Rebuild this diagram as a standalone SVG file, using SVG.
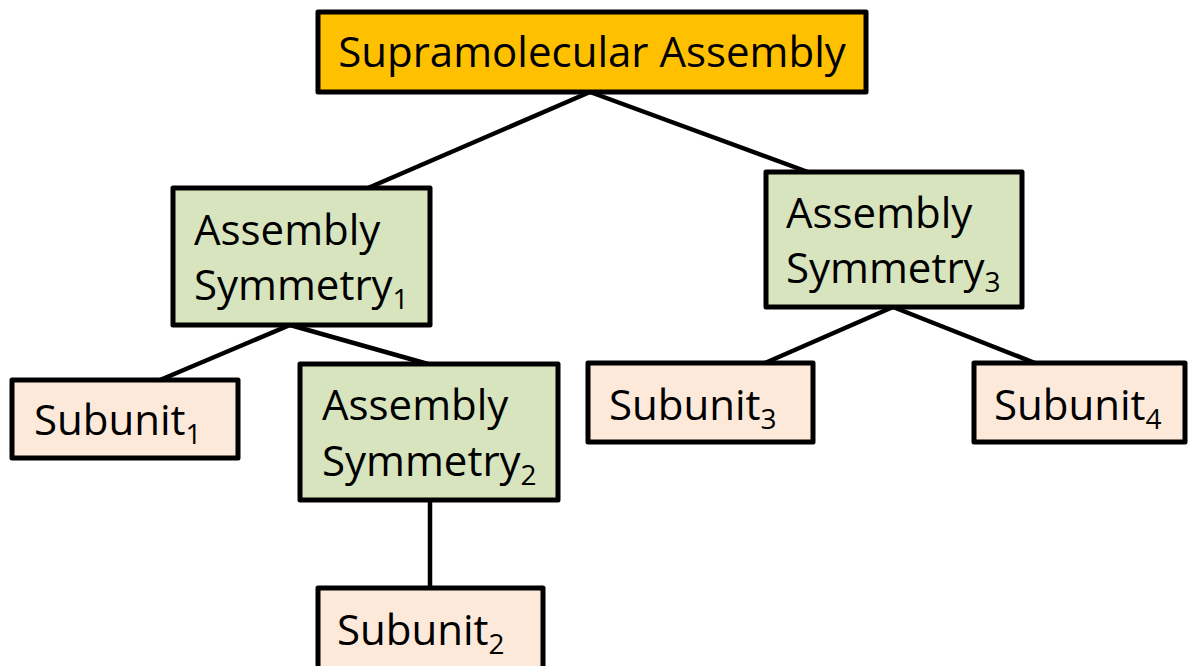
<svg xmlns="http://www.w3.org/2000/svg" width="1188" height="666" viewBox="0 0 1188 666">
<style>
.box{stroke:#000;stroke-width:5;stroke-linejoin:round}
.root{fill:#FFC000}
.sym{fill:#D7E4BD}
.sub{fill:#FDE9D9}
.t{font-family:"Open Sans","DejaVu Sans",sans-serif;font-size:42px;fill:#000}
.s{font-size:28px}
.edge{stroke:#000;stroke-width:4.5;fill:none}
</style>
<rect width="1188" height="666" fill="#fff"/>
<g id="connectors">
<line class="edge" x1="590" y1="92" x2="368" y2="188"/>
<line class="edge" x1="590" y1="92" x2="808" y2="172"/>
<line class="edge" x1="290" y1="325" x2="160" y2="380"/>
<line class="edge" x1="290" y1="325" x2="428" y2="364"/>
<line class="edge" x1="430" y1="500" x2="430" y2="588"/>
<line class="edge" x1="893" y1="307" x2="765" y2="363"/>
<line class="edge" x1="893" y1="307" x2="1035" y2="363"/>
</g>
<g id="root">
<rect class="box root" x="318" y="12" width="548" height="80"/>
<text class="t" x="592" y="67" text-anchor="middle">Supramolecular Assembly</text>
</g>
<g id="sym1">
<rect class="box sym" x="173" y="188" width="257" height="137"/>
<text class="t" x="194" y="245">Assembly</text>
<text class="t" x="194" y="300">Symmetry<tspan class="s" dy="9">1</tspan></text>
</g>
<g id="sym2">
<rect class="box sym" x="300" y="364" width="258" height="136"/>
<text class="t" x="322" y="420">Assembly</text>
<text class="t" x="322" y="476">Symmetry<tspan class="s" dy="9">2</tspan></text>
</g>
<g id="sym3">
<rect class="box sym" x="766" y="172" width="256" height="135"/>
<text class="t" x="786" y="228">Assembly</text>
<text class="t" x="786" y="283">Symmetry<tspan class="s" dy="9">3</tspan></text>
</g>
<g id="sub1">
<rect class="box sub" x="12" y="380" width="226" height="78"/>
<text class="t" x="34" y="435">Subunit<tspan class="s" dy="9">1</tspan></text>
</g>
<g id="sub2">
<rect class="box sub" x="318" y="588" width="225" height="82"/>
<text class="t" x="337" y="645">Subunit<tspan class="s" dy="9">2</tspan></text>
</g>
<g id="sub3">
<rect class="box sub" x="588" y="363" width="225" height="79"/>
<text class="t" x="609" y="420">Subunit<tspan class="s" dy="9">3</tspan></text>
</g>
<g id="sub4">
<rect class="box sub" x="974" y="363" width="211" height="79"/>
<text class="t" x="994" y="420">Subunit<tspan class="s" dy="9">4</tspan></text>
</g>
</svg>
